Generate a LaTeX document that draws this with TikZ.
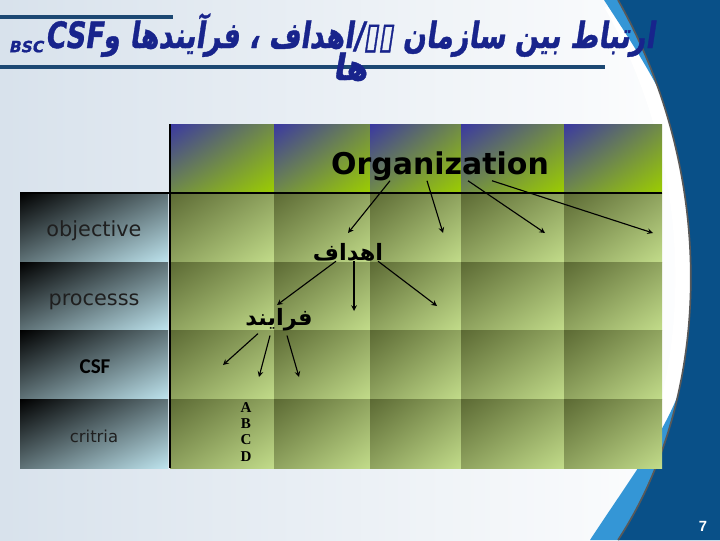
\documentclass[tikz,border=0pt]{standalone}
\usepackage{fontspec}
\usetikzlibrary{shadings}
\TeXXeTstate=1
\newfontfamily\dejavu{DejaVu Sans}
\newfontfamily\csffont{Carlito}
\newfontfamily\timesfont{Liberation Serif}
\newfontfamily\arialfont{Liberation Sans}
\newfontfamily\arabicfont[Script=Arabic]{DejaVu Sans}
\newfontfamily\titlefont[Script=Arabic,FakeSlant=0.2,FakeBold=1.2]{DejaVu Sans Bold}

\definecolor{paleblue}{RGB}{216,226,236}
\definecolor{deepblue}{RGB}{9,80,136}
\definecolor{skyblue}{RGB}{52,150,214}
\definecolor{titleblue}{RGB}{24,36,140}
\definecolor{lineblue}{RGB}{28,72,115}
\definecolor{headblue}{RGB}{58,56,162}
\definecolor{headgreen}{RGB}{156,206,0}
\definecolor{olivedark}{RGB}{92,106,52}
\definecolor{olivelight}{RGB}{194,220,138}
\definecolor{cellcyan}{RGB}{190,228,238}

\tikzset{
  headcell/.style={upper left=headblue, lower right=headgreen,
    upper right=headblue!45!headgreen, lower left=headblue!45!headgreen},
  bodycell/.style={upper left=olivedark, lower right=olivelight,
    upper right=olivedark!50!olivelight, lower left=olivedark!50!olivelight},
  labelcell/.style={upper left=black, lower right=cellcyan,
    upper right=black!50!cellcyan, lower left=black!50!cellcyan},
  rowlabel/.style={font=\dejavu\fontsize{14.8}{16}\selectfont, text=black!88, anchor=base},
  fatext/.style={font=\arabicfont\bfseries\fontsize{16}{18}\selectfont, inner sep=0pt},
  titletext/.style={font=\titlefont\fontsize{23}{28}\selectfont, text=titleblue, inner sep=0pt},
  arr/.style={->, >=stealth, line width=0.8pt},
  titleline/.style={lineblue, line width=2.8pt},
}

\begin{document}
\begin{tikzpicture}[x=0.025cm,y=-0.025cm]
\useasboundingbox (0,0) rectangle (720,540);

% background and the blue side
\shade[left color=paleblue, right color=white] (0,0) rectangle (720,540);
\draw[white, line width=22pt] (618,0) .. controls (720,180) and (710,400) .. (618,540);
\fill[skyblue] (590,540) .. controls (628,482) and (660,440) .. (678,395) -- (720,395) -- (720,540) -- cycle;
\fill[skyblue] (604,0) .. controls (630,40) and (650,70) .. (670,112) -- (720,112) -- (720,0) -- cycle;
\fill[deepblue] (618,0) .. controls (720,180) and (710,400) .. (618,540) -- (720,540) -- (720,0) -- cycle;
\draw[black!65, line width=1.2pt] (618,0) .. controls (720,180) and (710,400) .. (618,540);

% title
\draw[titleline] (0,17) -- (173,17);
\draw[titleline] (0,67) -- (605,67);
\node[titletext, anchor=base east, xscale=0.84, yscale=1.12]
  (title) at (655,48) {\beginR ارتباط بین سازمان ▯▯/اهداف ، فرآیندها و\beginL CSF\endL\endR};
\node[titletext, font=\titlefont\fontsize{11}{12}\selectfont, anchor=base east, inner sep=1pt]
  (bsc) at ([yshift=-3pt]title.base west) {BSC};
\node[titletext, anchor=base, yscale=1.12] (title2) at (350,80) {\beginR ها\endR};

% table cells
\foreach \xa/\xb in {170/274,274/370,370/461,461/564,564/662} {
  \shade[headcell] (\xa,124) rectangle (\xb,193);
  \foreach \ya/\yb in {193/262,262/330,330/399,399/468}
    \shade[bodycell] (\xa,\ya) rectangle (\xb,\yb);
}
\foreach \ya/\yb in {193/262,262/330,330/399,399/468}
  \shade[labelcell] (20,\ya) rectangle (168,\yb);
\draw[line width=1pt] (20,193) -- (662,193);
\draw[line width=1pt] (170,124) -- (170,468);

% row labels
\node[rowlabel] (obj) at (94,236) {objective};
\node[rowlabel] (proc) at (94,305) {processs};
\node[rowlabel, font=\csffont\bfseries\fontsize{15}{17}\selectfont, text=black] (csf) at (95,373) {CSF};
\node[rowlabel, font=\dejavu\fontsize{11.7}{13}\selectfont] (crit) at (94,442) {critria};

% organization and its arrows
\node[font=\dejavu\bfseries\fontsize{21.3}{24}\selectfont, anchor=base, inner sep=0pt] (org) at (440,174) {Organization};
\coordinate (o1) at (348,233);
\coordinate (o2) at (443,233);
\coordinate (o3) at (545,233);
\coordinate (o4) at (653,233);
\draw[arr] (org.south) ++(-50,0) -- (o1);
\draw[arr] (org.south) ++(-13,0) -- (o2);
\draw[arr] (org.south) ++(28,0) -- (o3);
\draw[arr] (org.south) ++(52,0) -- (o4);

\node[fatext] (hdaf) at (348,252) {\beginR اهداف\endR};
\coordinate (h1) at (277,305);
\coordinate (h2) at (354,311);
\coordinate (h3) at (437,306);
\draw[arr] (hdaf.south) ++(-12,0) -- (h1);
\draw[arr] (hdaf.south) ++(6,0) -- (h2);
\draw[arr] (hdaf.south) ++(30,0) -- (h3);

\node[fatext] (farayand) at (279,320) {\beginR فرایند\endR};
\coordinate (f1) at (223,365);
\coordinate (f2) at (259,377);
\coordinate (f3) at (299,377);
\draw[arr] (farayand.south) ++(-21,2) -- (f1);
\draw[arr] (farayand.south) ++(-9,4) -- (f2);
\draw[arr] (farayand.south) ++(8,4) -- (f3);

\node[font=\timesfont\bfseries\fontsize{10.7}{11.4}\selectfont, align=center, inner sep=0pt]
  (abcd) at (246,432) {A\\B\\C\\D};

% slide number
\node[font=\arialfont\bfseries\fontsize{10.5}{12}\selectfont, text=white] (pnum) at (703,526) {7};
\end{tikzpicture}
\end{document}
